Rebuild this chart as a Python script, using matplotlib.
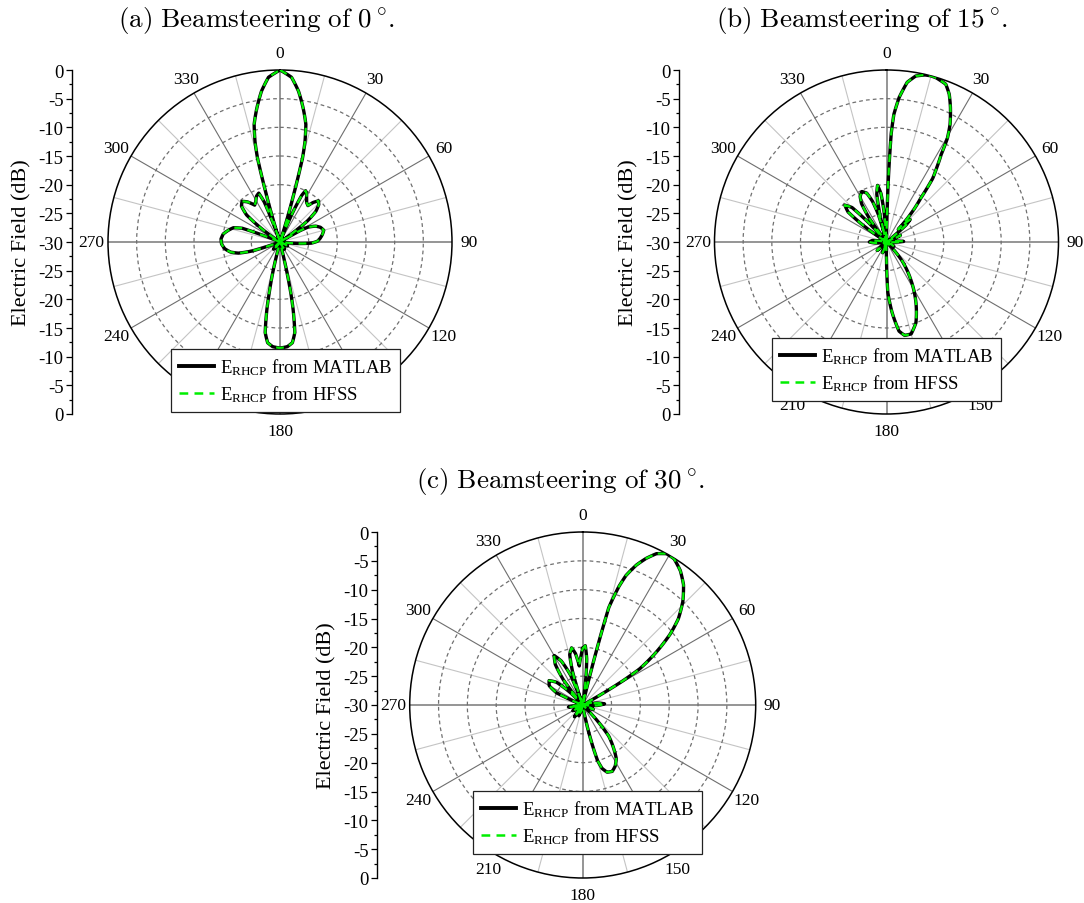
import matplotlib
matplotlib.use("Agg")
import matplotlib.pyplot as plt
import numpy as np
from matplotlib.lines import Line2D

plt.rcParams['font.family'] = ['Liberation Serif', 'DejaVu Serif']
plt.rcParams['mathtext.default'] = 'regular'

# ---- data: angle (deg, clockwise from top) and field (dB) ----
# (a) steering 0 deg
ang_a = [0, 4, 7, 10, 12.4, 14, 15, 16, 17, 18, 21, 22, 23.5, 25, 26.5, 28.5, 31, 34, 37.5,
         40, 43, 46, 49.5, 52.5, 55, 57, 59, 60.5, 62, 66, 70, 75, 80, 85, 89, 92, 95, 97,
         110, 118, 126, 140, 148, 156, 166, 167, 168, 169, 170.7, 173, 176, 180, 184, 187,
         189.3, 191, 192, 193.5, 195, 212, 222, 232, 250, 252, 255, 258.5, 263, 268, 273,
         278, 283, 287, 290, 291.5, 293, 303, 306, 309, 313, 317, 321, 325.5, 329, 333,
         336.5, 338.5, 340, 342, 343, 344, 345, 346, 347.6, 350, 353, 356, 360]
matlab_a = [0, -1.2, -3.5, -6.5, -9, -12, -14.8, -21, -25.5, -30, -30, -28, -24, -21, -20,
            -20.3, -21, -21.7, -22, -21, -20.2, -20.6, -21.8, -24, -28, -30, -30, -26, -24.5,
            -23.2, -22.5, -22.1, -22.5, -23, -23.5, -24.5, -27, -30, -30, -28.5, -30, -30,
            -28.5, -30, -30, -25, -21, -18, -14, -12.3, -11.7, -11.5, -11.7, -12.3, -14, -18,
            -21, -25, -30, -30, -28.3, -30, -30, -25, -22.5, -21.2, -20.3, -19.8, -19.7, -20,
            -20.8, -21.5, -23, -27, -30, -30, -26, -22.5, -20.8, -20.3, -21, -22.2, -21.8,
            -21, -20.7, -22.5, -27, -30, -25.5, -21, -14.8, -12, -9, -6.5, -3.5, -1.2, 0]
hfss_a = [0, -1.2, -3.5, -6.5, -9, -12, -14.8, -21, -25.5, -30, -30, -28, -24, -21, -20,
          -20.3, -21, -21.7, -22, -21, -20.2, -20.6, -21.8, -24, -28, -30, -30, -26, -24.5,
          -23.2, -22.5, -22.1, -22.5, -23, -23.5, -24.5, -27, -30, -30, -28.5, -30, -30,
          -28.5, -30, -30, -25, -21, -18, -14, -12.3, -11.7, -11.5, -11.7, -12.3, -14, -18,
          -21, -25, -30, -30, -28.3, -30, -30, -25, -22.5, -21.2, -20.3, -19.8, -19.7, -20,
          -20.8, -21.5, -23, -27, -30, -30, -26, -22.5, -20.8, -20.3, -21, -22.2, -21.8,
          -21, -20.7, -22.5, -27, -30, -25.5, -21, -14.8, -12, -9, -6.5, -3.5, -1.2, 0]

# (b) steering 15 deg
ang_b = [0, 1, 1.5, 2, 2.5, 3.3, 5, 7.4, 10, 13, 15, 17, 20.6, 23, 25.4, 28.4, 30.4, 32, 34,
         36, 38, 40, 41.5, 43, 44.5, 46.5, 49, 52, 60, 64.5, 69, 80, 88, 95, 110, 120, 130,
         135, 140, 147, 154, 160, 165, 169, 172, 175.5, 178.5, 180, 182, 195, 200, 206, 220,
         228, 235, 260, 265, 270, 276, 282, 303, 305.5, 308, 311.5, 315, 317, 319, 322, 324,
         327, 330, 334, 338, 341, 343.5, 345, 346.5, 348.5, 351, 353.5, 355.5, 357, 360]
matlab_b = [-30, -27, -21, -16, -11, -7.7, -4.7, -1.9, -0.6, -0.1, 0, -0.1, -0.6, -2, -4,
            -6.7, -9, -12, -14.3, -16.3, -20.3, -22.5, -24.5, -27, -25.5, -24.3, -25.5, -30,
            -30, -27.3, -30, -30, -27, -30, -30, -28.5, -30, -30, -26, -22.3, -18.3, -15,
            -13.4, -13.4, -14.3, -17.7, -21.2, -27, -30, -30, -28, -30, -30, -27.8, -30, -30,
            -28, -27, -27.5, -30, -30, -25, -21.5, -20.3, -21.5, -25, -30, -30, -25, -22,
            -20.8, -20.2, -20.8, -22.5, -25, -30, -25, -21.5, -20, -21.5, -25, -30, -30]
hfss_b = [-30, -27, -21, -16, -11, -7.7, -4.7, -1.9, -0.6, -0.1, 0, -0.1, -0.6, -2, -4,
          -6.7, -9, -12, -14.3, -16.3, -20.3, -22.5, -24.5, -27, -25.5, -24.3, -25.5, -30,
          -30, -27.3, -30, -30, -27, -30, -30, -28.5, -30, -30, -26, -22.3, -18.3, -15,
          -13.4, -13.4, -14.3, -17.7, -21.2, -27, -30, -30, -28, -30, -30, -27.8, -30, -30,
          -28, -27, -27.5, -30, -30, -25, -21.5, -20.3, -21.5, -25, -30, -30, -25, -22,
          -20.8, -20.2, -20.8, -22.5, -25, -30, -25, -21.5, -20, -21.5, -25, -30, -30]

# (c) steering 30 deg
ang_c = [0, 2.5, 5, 6.5, 8, 13, 14, 15, 17, 18.5, 21, 23.4, 26, 29, 32, 36, 40, 44, 48, 51,
         54.3, 57.6, 59, 60, 61, 70, 75, 78, 82, 87, 92, 96, 105, 112, 120, 134, 137, 140,
         145, 148, 152, 156, 160, 163, 165, 166.5, 168, 170, 190, 200, 208, 215, 222, 232,
         240, 248, 255, 262, 270, 292, 295, 300, 306, 311, 315, 318, 320, 322.5, 326, 330,
         334, 338, 340, 341, 343, 345.5, 349, 352, 355, 358, 360]
matlab_c = [-20.2, -19.7, -22, -25, -30, -30, -22, -12.5, -8.5, -6.3, -4, -2.3, -0.8, 0,
            -0.1, -1.2, -2.8, -5, -7.7, -10.5, -14.3, -18.3, -22, -26, -30, -30, -28.5, -30,
            -27.5, -26.2, -27.5, -30, -30, -28, -30, -30, -26.5, -23, -20.5, -19, -18, -17.4,
            -17.6, -18.5, -20, -23, -26, -30, -30, -28, -30, -27.5, -30, -30, -28, -30, -30,
            -27.5, -30, -30, -25, -23.3, -22.8, -24, -27, -30, -30, -24.5, -21.5, -20.1,
            -21.5, -24.5, -30, -30, -24, -21, -19.9, -21, -23.2, -21.5, -20.2]
hfss_c = [-20.2, -19.7, -22, -25, -30, -30, -22, -12.5, -8.5, -6.3, -4, -2.3, -0.8, 0,
          -0.1, -1.2, -2.8, -5, -7.7, -10.5, -14.3, -18.3, -22, -26, -30, -30, -28.5, -30,
          -27.5, -26.2, -27.5, -30, -30, -28, -30, -30, -26.5, -23, -20.5, -19, -18, -17.4,
          -17.6, -18.5, -20, -23, -26, -30, -30, -28, -30, -27.5, -30, -30, -28, -30, -30,
          -27.5, -30, -30, -25, -23.3, -22.8, -24, -27, -30, -30, -24.5, -21.5, -20.1,
          -21.5, -24.5, -30, -30, -24, -21, -19.9, -21, -23.2, -21.5, -20.2]

titles = ["(a)\\ Beamsteering\\ of\\ 0\\,^{\\circ}.",
          "(b)\\ Beamsteering\\ of\\ 15\\,^{\\circ}.",
          "(c)\\ Beamsteering\\ of\\ 30\\,^{\\circ}."]
angle_ticks = list(range(0, 360, 15))
db_ticks = [0, 5, 10, 15, 20, 25, 30, 35, 40, 45, 50, 55, 60]
db_labels = ["0", "-5", "-10", "-15", "-20", "-25", "-30", "-25", "-20", "-15", "-10", "-5", "0"]
legend_labels = [r"E$_{\mathregular{RHCP}}$ from MATLAB", r"E$_{\mathregular{RHCP}}$ from HFSS"]

GREEN = '#00ee00'
W, H = 1084, 904
fig = plt.figure(figsize=(W / 100, H / 100), dpi=100)


def panel(ang, db_m, db_h, title, cx, cy, rad, scale_x, title_xy, leg_xy):
    ax = fig.add_axes([(cx - rad) / W, (H - cy - rad) / H, 2 * rad / W, 2 * rad / H],
                      projection='polar')
    ax.set_theta_zero_location('N')
    ax.set_theta_direction(-1)
    ax.set_ylim(0, 30)
    th = np.deg2rad(ang)
    l1, = ax.plot(th, np.clip(np.array(db_m) + 30, 0, None), color='black', lw=2.4, zorder=4)
    l2, = ax.plot(th, np.clip(np.array(db_h) + 30, 0, None), color=GREEN, lw=1.6,
                  dashes=(3.5, 2.5), zorder=5)
    # let the polar transform draw each segment as a smooth arc/spiral
    for ln in (l1, l2):
        ln.get_path()._interpolation_steps = 24

    ax.set_xticks(np.deg2rad(angle_ticks))
    ax.set_xticklabels([str(a) if a % 30 == 0 else "" for a in angle_ticks], fontsize=12.5)
    ax.tick_params(axis='x', pad=5, direction='in', length=4, width=0.8)
    ax.set_yticks([5, 10, 15, 20, 25])
    ax.set_yticklabels([])
    ax.grid(True)
    for a, gl in zip(angle_ticks, ax.xaxis.get_gridlines()):
        if a % 90 == 0:
            gl.set_color('#8c8c8c'); gl.set_linewidth(1.3)
        elif a % 30 == 0:
            gl.set_color('#6e6e6e'); gl.set_linewidth(0.8)
        else:
            gl.set_color('#c4c4c4'); gl.set_linewidth(0.8)
        gl.set_linestyle('-')
    for gl in ax.yaxis.get_gridlines():
        gl.set_color('#707070'); gl.set_linestyle((0, (3, 2.5))); gl.set_linewidth(0.9)
    ax.spines['polar'].set_color('black')
    ax.spines['polar'].set_linewidth(1.1)

    handles = [Line2D([], [], color='black', lw=2.8),
               Line2D([], [], color=GREEN, lw=1.8, dashes=(3.5, 2.5))]
    leg = ax.legend(handles, legend_labels, loc='upper left',
                    bbox_to_anchor=(leg_xy[0] / W, 1 - leg_xy[1] / H),
                    bbox_transform=fig.transFigure, fontsize=13.5, frameon=True,
                    fancybox=False, framealpha=1, edgecolor='#222222', borderaxespad=0,
                    borderpad=0.4, labelspacing=0.35, handlelength=1.9, handletextpad=0.3)
    leg.get_frame().set_linewidth(0.9)
    leg.set_zorder(10)

    # radial dB scale at the left
    axr = fig.add_axes([scale_x / W, (H - cy - rad) / H, 0.0005, 2 * rad / H])
    axr.set_ylim(0, 60)
    axr.set_xticks([])
    axr.set_yticks(db_ticks)
    axr.set_yticklabels(db_labels, fontsize=13.5)
    axr.set_yticks(np.arange(2.5, 60, 5), minor=True)
    axr.tick_params(axis='y', which='major', length=4, width=0.9, pad=2)
    axr.tick_params(axis='y', which='minor', length=2.5, width=0.9)
    for s in ['top', 'bottom', 'right']:
        axr.spines[s].set_visible(False)
    axr.spines['left'].set_linewidth(1.0)
    axr.patch.set_visible(False)
    axr.set_ylabel("Electric Field (dB)", fontsize=16, labelpad=5)

    fig.text(title_xy[0] / W, 1 - title_xy[1] / H, "$\\mathrm{" + title + "}$",
             ha='center', va='center', fontsize=19.5, math_fontfamily='cm')


panel(ang_a, matlab_a, hfss_a, titles[0], 280, 243, 172, 72, (256, 20), (171, 350))
panel(ang_b, matlab_b, hfss_b, titles[1], 886.5, 243, 172, 679, (862, 20), (772, 339))
panel(ang_c, matlab_c, hfss_c, titles[2], 582.7, 706, 173, 377, (560, 482), (473, 792))

fig.savefig("out.png", dpi=100)
